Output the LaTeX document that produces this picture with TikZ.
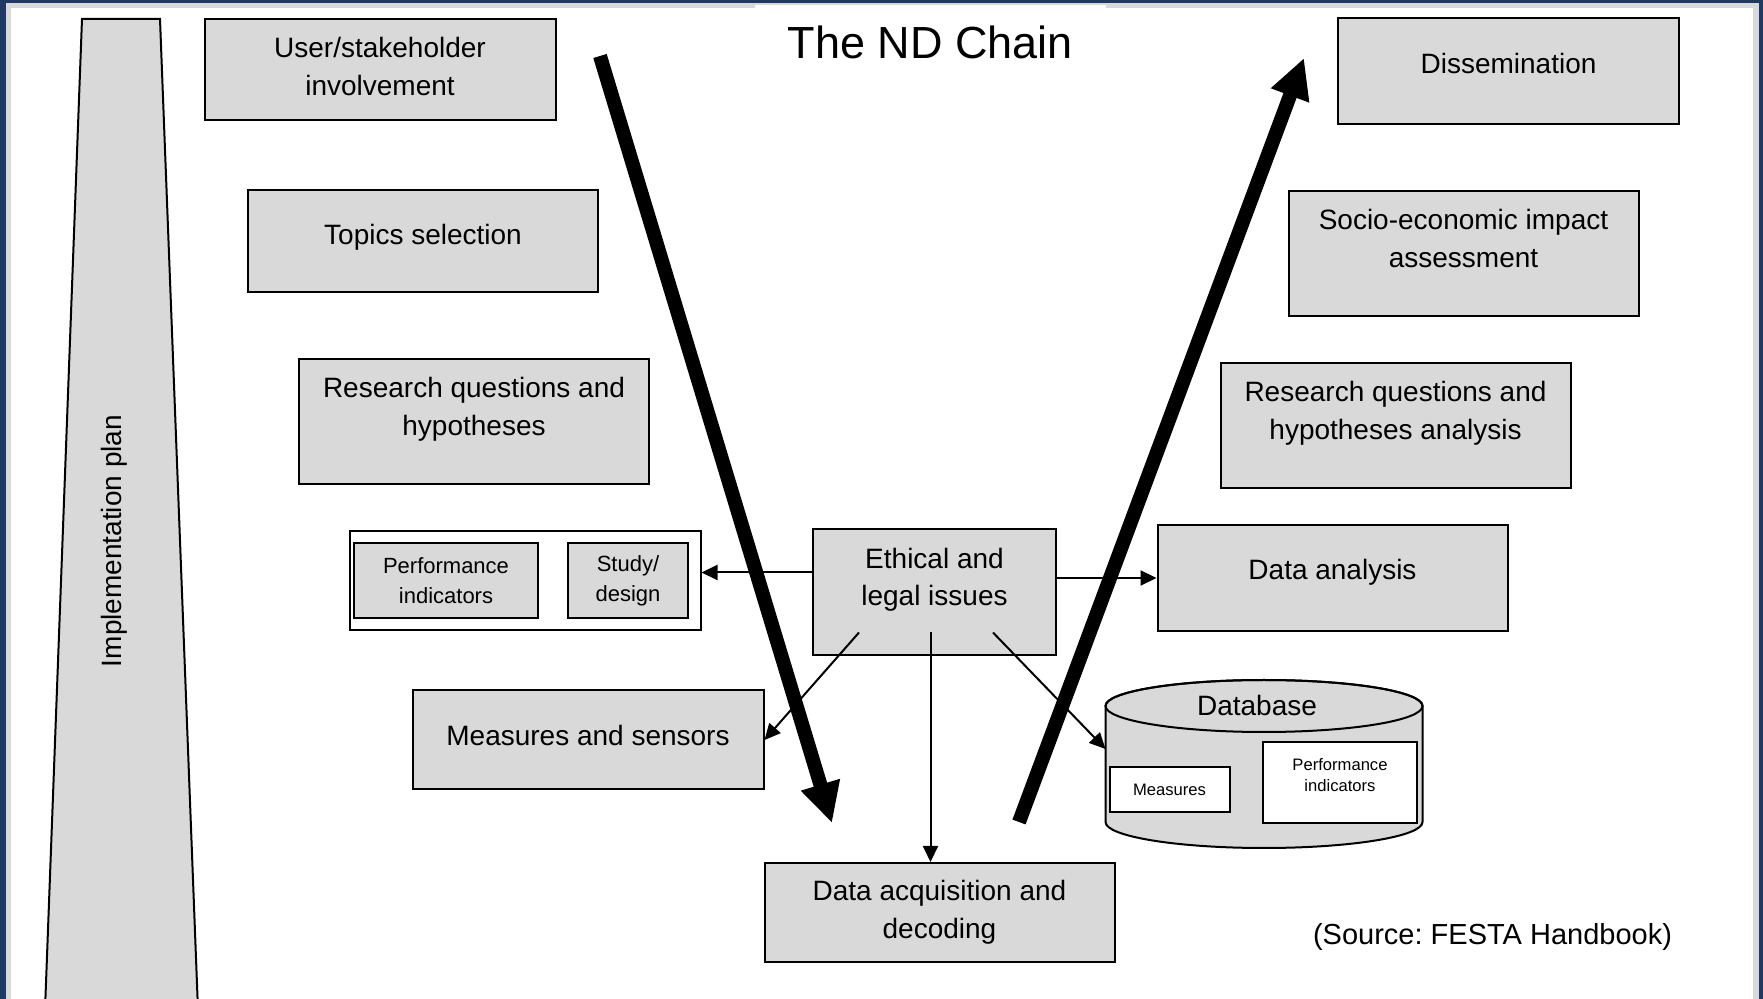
\documentclass[tikz,border=0pt]{standalone}
\usepackage{fontspec}
\setmainfont{Liberation Sans}
\usepackage{tikz}
\usetikzlibrary{arrows.meta, positioning}

\definecolor{boxgray}{HTML}{D9D9D9}
\definecolor{frameblue}{HTML}{1F3864}
\definecolor{framegray}{HTML}{D9D9D9}
\newcommand{\boxlift}[1][15.5pt]{\rule[-#1]{0pt}{#1}}
\frenchspacing

\begin{document}
\begin{tikzpicture}[x=0.5pt,y=-0.5pt,>={Triangle[length=8pt,width=7.5pt]},on grid,
		font=\fontsize{14}{18.75}\selectfont]
	\useasboundingbox (0,0) rectangle (1763,999);
	% slide frame
	\fill[frameblue] (0,0) rectangle (1763,999);
	\fill[framegray] (6,3) rectangle (1759,999);
	\fill[white] (11,8) rectangle (1753,999);

	\tikzset{mybox/.style={draw,fill=boxgray,line width=1pt,minimum width=175pt,minimum height=50pt,inner sep=2pt,align=center}}
	\tikzset{whitebox/.style={mybox,fill=white}}
	\tikzset{myarrow/.style={->,line width=1pt}}
	\tikzset{bigarrow/.style={-{Triangle[length=20pt,width=19pt]},line width=7pt}}

	% implementation plan
	\filldraw[fill=boxgray,line width=1pt] (45,1010) -- (82,19) -- (160,19) -- (198,1010);
	\node[rotate=90] (P) at (114.5,541) {Implementation plan};

	\node[fill=white,minimum width=175.5pt,minimum height=37pt,inner sep=0pt,font=\fontsize{22.5}{27}\selectfont] (T) at (930.5,42) {The ND Chain};

	% left side
	\node[mybox,minimum width=175.5pt,minimum height=50.5pt] (L1) at (380,70) {User/stakeholder\\involvement\boxlift[3.5pt]};
	\node[mybox,minimum height=51pt] (L2) [below right=85.5pt and 21.5pt of L1] {Topics selection\boxlift[6.5pt]};
	\node[mybox,minimum height=62.5pt] (L3) [below right=90.5pt and 25.5pt of L2] {Research questions and\\hypotheses\boxlift};
	\node[whitebox,minimum width=175.5pt,minimum height=49.5pt] (L4) [below right=79.5pt and 25.5pt of L3] {};
	\node[mybox,minimum width=92pt,minimum height=37.5pt,font=\fontsize{11}{15}\selectfont] (L4a) [left=39.5pt of L4] {Performance\\indicators};
	\node[mybox,minimum width=60pt,minimum height=37.5pt,font=\fontsize{11}{15}\selectfont] (L4b) [right=51.5pt of L4] {Study/\\design};
	\node[mybox,minimum width=175.5pt,minimum height=49.5pt] (L5) [below right=79.5pt and 31.5pt of L4] {Measures and sensors\boxlift[4.5pt]};

	% middle
	\node[mybox,minimum width=121.5pt,minimum height=63pt] (C1) at (934.5,592.5) {Ethical and\\legal issues\boxlift};
	\node[mybox,minimum height=49.5pt] (C2) [below right=160pt and 2.5pt of C1] {Data acquisition and\\decoding};

	% right side
	\node[mybox,minimum width=170.5pt,minimum height=53pt] (R1) at (1508.5,71) {Dissemination\boxlift[8pt]};
	\node[mybox,minimum height=62.5pt] (R2) [below left=91.5pt and 22.5pt of R1] {Socio-economic impact\\assessment\boxlift};
	\node[mybox,minimum height=62.5pt] (R3) [below left=86pt and 34pt of R2] {Research questions and\\hypotheses analysis\boxlift};
	\node[mybox,minimum height=53pt] (R4) [below left=76pt and 31.5pt of R3] {Data analysis\boxlift[8.5pt]};

	% database
	\node[minimum width=158.5pt,minimum height=84pt,inner sep=0pt,outer sep=0pt] (R5) at (1264,764) {};
	\filldraw[fill=boxgray,line width=1pt] ([yshift=29pt]R5.west) -- ([yshift=-29pt]R5.west)
		arc[start angle=180,end angle=360,x radius=79.25pt,y radius=13pt] -- ([yshift=29pt]R5.east)
		arc[start angle=0,end angle=180,x radius=79.25pt,y radius=13pt] -- cycle;
	\draw[line width=1pt] ([yshift=29pt]R5.center) ellipse[x radius=79.25pt,y radius=13pt];
	\node (R5t) at (1257,705) {Database};
	\node[whitebox,minimum width=60pt,minimum height=22.5pt,font=\fontsize{8.3}{10.5}\selectfont] (R5a) at (1169.5,789.5) {Measures};
	\node[whitebox,minimum width=77pt,minimum height=40.5pt,font=\fontsize{8.3}{10.5}\selectfont] (R5b) at (1340,783) {Performance\\indicators\boxlift[8pt]};

	\node[font=\fontsize{14.5}{18}\selectfont] (S) at (1492.5,937) {(Source: FESTA Handbook)};

	% ethics links
	\coordinate (E0) at ([yshift=10pt]C1.west);
	\coordinate (E1) at ([shift={(-2pt,12pt)}]C1.south);
	\path (E0) edge [myarrow] (E0 -| L4.east);
	\path (C1.east |- R4.west) edge [myarrow] (R4.west);
	\path ([shift={(23.5pt,12pt)}]C1.south west) edge [myarrow] (L5.east);
	\path (E1) edge [myarrow] (E1 |- C2.north);
	\path ([shift={(-32pt,12pt)}]C1.south east) edge [myarrow] ([yshift=7.5pt]R5.west);

	% the chain
	\coordinate (D0) at (600,56);
	\coordinate (D1) at (832,823);
	\coordinate (U0) at (1019,822);
	\coordinate (U1) at (1304,58);
	\draw[bigarrow] (D0) -- (D1);
	\draw[bigarrow] (U0) -- (U1);
\end{tikzpicture}
\end{document}
